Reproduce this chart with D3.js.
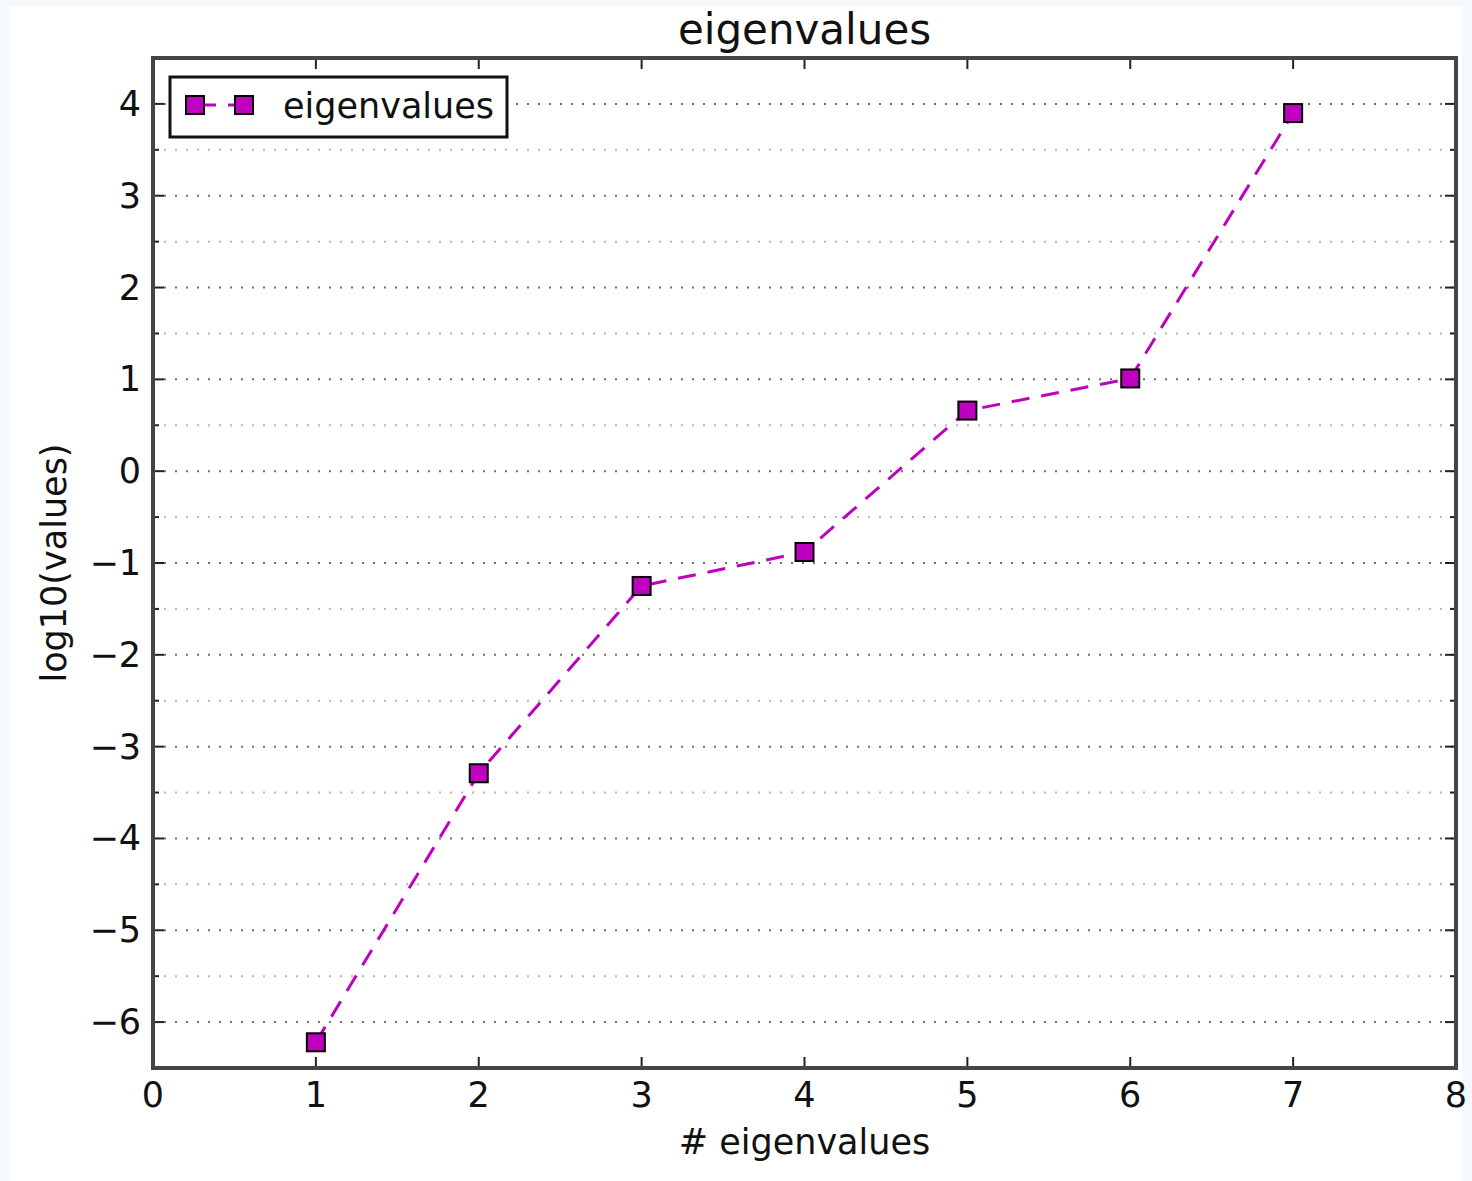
<!DOCTYPE html>
<html>
<head>
<meta charset="utf-8">
<script src="https://cdn.jsdelivr.net/npm/d3@7"></script>
<style>
  body { margin: 0; background: #f6f9fb; }
  svg { display: block; font-family: "DejaVu Sans", sans-serif; }
</style>
</head>
<body>
<svg></svg>
<script>
// data
const indices = [1, 2, 3, 4, 5, 6, 7];
const logValues = [-6.22, -3.29, -1.25, -0.88, 0.66, 1.01, 3.90];
const xTicks = [0, 1, 2, 3, 4, 5, 6, 7, 8];
const yTicks = [-6, -5, -4, -3, -2, -1, 0, 1, 2, 3, 4];
const yMinor = [-6.5, -5.5, -4.5, -3.5, -2.5, -1.5, -0.5, 0.5, 1.5, 2.5, 3.5, 4.5];

const width = 1472,
    height = 1181;

const svg = d3.select("svg")
    .attr("width", width)
    .attr("height", height);

// white figure area over the pale page
svg.append("rect")
    .attr("x", 10).attr("y", 6)
    .attr("width", 1452).attr("height", height - 6)
    .attr("fill", "#ffffff");

const plotL = 153, plotR = 1456, plotT = 58, plotB = 1068;
const fs = 35;

const x = d3.scaleLinear().domain([0, 8]).range([plotL, plotR]);
const y = d3.scaleLinear().domain([-6.5, 4.5]).range([plotB, plotT]);

// grid: minor lighter, major darker, horizontal only
svg.append("g")
    .selectAll("line")
    .data(yMinor.filter(d => d > -6.5 && d < 4.5))
    .join("line")
    .attr("x1", plotL).attr("x2", plotR)
    .attr("y1", d => y(d)).attr("y2", d => y(d))
    .attr("stroke", "#b8b8b8")
    .attr("stroke-width", 2)
    .attr("stroke-dasharray", "2,9");

svg.append("g")
    .selectAll("line")
    .data(yTicks)
    .join("line")
    .attr("x1", plotL).attr("x2", plotR)
    .attr("y1", d => y(d)).attr("y2", d => y(d))
    .attr("stroke", "#707070")
    .attr("stroke-width", 2)
    .attr("stroke-dasharray", "2,9");

// inward ticks on all four sides
const tickColor = "#222";
const xt = svg.append("g").attr("stroke", tickColor).attr("stroke-width", 2);
xTicks.forEach(d => {
    xt.append("line").attr("x1", x(d)).attr("x2", x(d)).attr("y1", plotB).attr("y2", plotB - 11);
    xt.append("line").attr("x1", x(d)).attr("x2", x(d)).attr("y1", plotT).attr("y2", plotT + 11);
});
const yt = svg.append("g").attr("stroke", tickColor).attr("stroke-width", 2);
yTicks.forEach(d => {
    yt.append("line").attr("x1", plotL).attr("x2", plotL + 11).attr("y1", y(d)).attr("y2", y(d));
    yt.append("line").attr("x1", plotR).attr("x2", plotR - 11).attr("y1", y(d)).attr("y2", y(d));
});
yMinor.forEach(d => {
    yt.append("line").attr("x1", plotL).attr("x2", plotL + 6).attr("y1", y(d)).attr("y2", y(d));
    yt.append("line").attr("x1", plotR).attr("x2", plotR - 6).attr("y1", y(d)).attr("y2", y(d));
});

// frame
svg.append("rect")
    .attr("x", plotL).attr("y", plotT)
    .attr("width", plotR - plotL).attr("height", plotB - plotT)
    .attr("fill", "none")
    .attr("stroke", "#454545")
    .attr("stroke-width", 4);

// tick labels
svg.append("g")
    .selectAll("text")
    .data(xTicks)
    .join("text")
    .attr("x", d => x(d))
    .attr("y", plotB + 39)
    .attr("text-anchor", "middle")
    .attr("font-size", fs)
    .attr("fill", "#111")
    .text(d => d);

svg.append("g")
    .selectAll("text")
    .data(yTicks)
    .join("text")
    .attr("x", plotL - 12)
    .attr("y", d => y(d) + 12)
    .attr("text-anchor", "end")
    .attr("font-size", fs)
    .attr("fill", "#111")
    .text(d => d < 0 ? "\u2212" + Math.abs(d) : d);

// titles
svg.append("text")
    .attr("x", (plotL + plotR) / 2)
    .attr("y", 44)
    .attr("text-anchor", "middle")
    .attr("font-size", 42)
    .attr("fill", "#111")
    .text("eigenvalues");

svg.append("text")
    .attr("x", (plotL + plotR) / 2)
    .attr("y", 1154)
    .attr("text-anchor", "middle")
    .attr("font-size", fs)
    .attr("fill", "#111")
    .text("# eigenvalues");

svg.append("text")
    .attr("transform", `translate(66,${(plotT + plotB) / 2}) rotate(-90)`)
    .attr("text-anchor", "middle")
    .attr("font-size", fs)
    .attr("fill", "#111")
    .text("log10(values)");

// series
const color = "#bf00bf";
const line = d3.line()
    .x((d, i) => x(indices[i]))
    .y(d => y(d));

svg.append("path")
    .datum(logValues)
    .attr("d", line)
    .attr("fill", "none")
    .attr("stroke", color)
    .attr("stroke-width", 3)
    .attr("stroke-dasharray", "18,12");

const ms = 18;
svg.append("g")
    .selectAll("rect")
    .data(logValues)
    .join("rect")
    .attr("x", (d, i) => x(indices[i]) - ms / 2)
    .attr("y", d => y(d) - ms / 2)
    .attr("width", ms)
    .attr("height", ms)
    .attr("fill", color)
    .attr("stroke", "#000")
    .attr("stroke-width", 2);

// legend
const lg = svg.append("g");
lg.append("rect")
    .attr("x", 170).attr("y", 77)
    .attr("width", 337).attr("height", 60)
    .attr("fill", "#fff")
    .attr("stroke", "#111")
    .attr("stroke-width", 3);
lg.append("line")
    .attr("x1", 195).attr("x2", 244)
    .attr("y1", 105).attr("y2", 105)
    .attr("stroke", color)
    .attr("stroke-width", 3)
    .attr("stroke-dasharray", "18,12")
    .attr("stroke-dashoffset", -3);
[195, 244].forEach(cx => {
    lg.append("rect")
        .attr("x", cx - ms / 2).attr("y", 105 - ms / 2)
        .attr("width", ms).attr("height", ms)
        .attr("fill", color)
        .attr("stroke", "#000")
        .attr("stroke-width", 2);
});
lg.append("text")
    .attr("x", 283).attr("y", 118)
    .attr("font-size", fs)
    .attr("fill", "#111")
    .text("eigenvalues");
</script>
</body>
</html>
